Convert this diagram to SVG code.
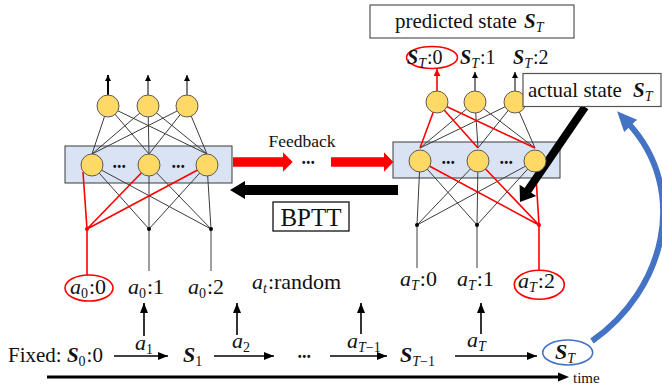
<svg xmlns="http://www.w3.org/2000/svg" width="662" height="387" viewBox="0 0 662 387">
<style>
text{font-family:"Liberation Serif","Times New Roman",serif;fill:#111}
.it{font-style:italic}
.bi{font-style:italic;font-weight:bold}
.sub{font-size:14px}
.box{fill:#DAE3F3;stroke:#3a3a3a;stroke-width:1}
.node{fill:#FFD966;stroke:#5a5a5a;stroke-width:1}
.ln{stroke:#3c3c3c;stroke-width:1;fill:none}
.rd{stroke:#FF0000;stroke-width:1.6;fill:none}
.ar{stroke:#000;stroke-width:1.6;fill:none;marker-end:url(#ah)}
.dots{font-family:"Liberation Sans",Arial,sans-serif;font-size:10px;font-weight:bold;letter-spacing:1px}
.wbox{fill:#fff;stroke:#555;stroke-width:1.2}
</style>
<defs>
<marker id="ah" viewBox="0 0 10 8" refX="10" refY="4" markerWidth="10" markerHeight="8" markerUnits="userSpaceOnUse" orient="auto"><path d="M0,0L10,4L0,8z" fill="#000"/></marker>
<marker id="ahs" viewBox="0 0 6 6" refX="6" refY="3" markerWidth="6" markerHeight="6" markerUnits="userSpaceOnUse" orient="auto"><path d="M0,0L6,3L0,6z" fill="#000"/></marker>
<marker id="ahr" viewBox="0 0 6 6" refX="6" refY="3" markerWidth="7" markerHeight="7" markerUnits="userSpaceOnUse" orient="auto"><path d="M0,0L6,3L0,6z" fill="#FF0000"/></marker>
<marker id="ahb" viewBox="0 0 20 18" refX="4" refY="9" markerWidth="20" markerHeight="18" markerUnits="userSpaceOnUse" orient="auto"><path d="M0,0L20,9L0,18z" fill="#4472C4"/></marker>
</defs>

<!-- layer boxes -->
<g id="left-hidden-layer"><rect class="box" x="65" y="146" width="167" height="37"/></g>
<g id="right-hidden-layer"><rect class="box" x="393" y="142" width="167" height="36"/></g>

<g id="connectors">
  <!-- left network: top to hidden -->
  <path class="ln" d="M108,106L92,154M108,106L149,154M108,106L207,154M148,106L92,154M148,106L149,154M148,106L207,154M187,106L92,154M187,106L149,154M187,106L207,154"/>
  <!-- left network: hidden to junctions -->
  <path class="ln" d="M92,165L149,229M92,165L211,229M149,165L149,229M149,165L211,229M207,165L149,229M207,165L211,229"/>
  <path class="rd" d="M83,172L87,229M149,165L87,229M207,165L87,229"/>
  <path class="ln" d="M149,229V271M211,229V271" stroke="#555"/>
  <path class="rd" d="M87,229V275"/>
  <circle cx="87" cy="229" r="2" fill="#FF0000"/>
  <circle cx="149" cy="229" r="2" fill="#000"/>
  <circle cx="211" cy="229" r="2" fill="#000"/>
  <!-- left outputs -->
  <line x1="108" y1="95" x2="108" y2="75" stroke="#000" stroke-width="2" marker-end="url(#ahs)"/>
  <line x1="148" y1="95" x2="148" y2="75" stroke="#000" stroke-width="1" marker-end="url(#ahs)"/>
  <line x1="187" y1="95" x2="187" y2="75" stroke="#000" stroke-width="1" marker-end="url(#ahs)"/>

  <!-- right network: top to hidden -->
  <path class="ln" d="M475,102L420,148M475,102L478,148M475,102L535,148M515,102L420,148M515,102L478,148M515,102L535,148"/>
  <path class="rd" d="M437,102L420,148M437,102L478,148M437,102L535,148"/>
  <!-- right network: hidden to junctions -->
  <path class="ln" d="M420,161L417,225M420,161L477,225M478,161L417,225M478,161L477,225M535,161L417,225M535,161L477,225"/>
  <path class="rd" d="M420,161L539,225M478,161L539,225M535,161L539,225"/>
  <path class="ln" d="M417,225V268M477,225V268" stroke="#555"/>
  <path class="rd" d="M539,225V270"/>
  <circle cx="417" cy="225" r="2" fill="#000"/>
  <circle cx="477" cy="225" r="2" fill="#000"/>
  <circle cx="539" cy="225" r="2" fill="#FF0000"/>
  <!-- right outputs -->
  <line x1="437" y1="91" x2="437" y2="69" stroke="#FF0000" stroke-width="1.6" marker-end="url(#ahr)"/>
  <line x1="475" y1="91" x2="475" y2="72" stroke="#000" stroke-width="1" marker-end="url(#ahs)"/>
  <line x1="515" y1="91" x2="515" y2="72" stroke="#000" stroke-width="1" marker-end="url(#ahs)"/>

  <!-- feedback arrows -->
  <polygon points="233,157.3 283,157.3 283,152.3 292.7,162 283,171.7 283,166.7 233,166.7" fill="#FF0000"/>
  <polygon points="331,157.3 384,157.3 384,152.3 393.3,162 384,171.7 384,166.7 331,166.7" fill="#FF0000"/>
  <!-- BPTT arrow -->
  <polygon points="398,185 245,185 245,181 230,190 245,199 245,195 398,195" fill="#000"/>
  <!-- actual state arrow -->
  <polygon points="581.7,104.7 588.3,109.3 531.2,192.7 536.2,196 520,202 519.6,184.8 524.6,188.1" fill="#000"/>
  <!-- blue feedback curve -->
  <path d="M592,341C665,290 690,190 628,123" fill="none" stroke="#4472C4" stroke-width="6" marker-end="url(#ahb)"/>

  <!-- action arrows (up) -->
  <line class="ar" x1="144" y1="336" x2="144" y2="303"/>
  <line class="ar" x1="237" y1="335" x2="237" y2="303"/>
  <line class="ar" x1="361" y1="334" x2="361" y2="303"/>
  <line class="ar" x1="481" y1="334" x2="481" y2="303"/>
  <!-- state transition arrows -->
  <line class="ar" x1="114" y1="356" x2="168" y2="356"/>
  <line class="ar" x1="214" y1="356" x2="274" y2="356"/>
  <line class="ar" x1="330" y1="356" x2="387" y2="356"/>
  <line class="ar" x1="455" y1="356" x2="537" y2="356"/>
  <!-- time axis -->
  <line x1="47" y1="377" x2="560" y2="377" stroke="#000" stroke-width="3"/>
  <polygon points="558,372.5 569,377 558,381.5" fill="#000"/>
</g>

<!-- left network nodes -->
<g id="left-output-nodes">
  <circle class="node" cx="108" cy="106" r="11"/>
  <circle class="node" cx="148" cy="106" r="11"/>
  <circle class="node" cx="187" cy="106" r="11"/>
</g>
<g id="left-hidden-nodes">
  <circle class="node" cx="92" cy="165" r="11"/>
  <circle class="node" cx="149" cy="165" r="11"/>
  <circle class="node" cx="207" cy="165" r="11"/>
  <text class="dots" x="113" y="169.5">•••</text>
  <text class="dots" x="172" y="169.5">•••</text>
</g>

<!-- right network nodes -->
<g id="right-output-nodes">
  <circle class="node" cx="437" cy="102" r="11"/>
  <circle class="node" cx="475" cy="102" r="11"/>
  <circle class="node" cx="515" cy="102" r="11"/>
</g>
<g id="right-hidden-nodes">
  <circle class="node" cx="420" cy="161" r="11"/>
  <circle class="node" cx="478" cy="161" r="11"/>
  <circle class="node" cx="535" cy="161" r="11"/>
  <text class="dots" x="442" y="165.5">•••</text>
  <text class="dots" x="500" y="165.5">•••</text>
</g>

<!-- feedback / BPTT labels -->
<g id="feedback-label">
  <text x="302" y="147" font-size="17.5" text-anchor="middle">Feedback</text>
  <text class="dots" x="302" y="166">•••</text>
</g>
<g id="bptt">
  <rect x="273" y="202" width="76" height="29" fill="#fff" stroke="#111" stroke-width="1.3"/>
  <text x="311" y="226" font-size="25" text-anchor="middle">BPTT</text>
</g>

<!-- predicted state -->
<g id="predicted-state">
  <rect class="wbox" x="370" y="5" width="204" height="33"/>
  <text x="395" y="28" font-size="21">predicted state</text>
  <text x="524" y="28" font-size="21"><tspan class="bi">S</tspan><tspan class="it" font-size="14" dy="4">T</tspan></text>
</g>
<g id="output-labels">
  <ellipse cx="432" cy="57.5" rx="25.5" ry="11" fill="none" stroke="#FF0000" stroke-width="1.6"/>
  <text x="407" y="64" font-size="20"><tspan class="bi">S</tspan><tspan class="it" font-size="14" dy="4">T</tspan><tspan dy="-4" dx="1">:0</tspan></text>
  <text x="460" y="64" font-size="20"><tspan class="bi">S</tspan><tspan class="it" font-size="14" dy="4">T</tspan><tspan dy="-4" dx="1">:1</tspan></text>
  <text x="513" y="64" font-size="20"><tspan class="bi">S</tspan><tspan class="it" font-size="14" dy="4">T</tspan><tspan dy="-4" dx="1">:2</tspan></text>
</g>

<!-- actual state -->
<g id="actual-state">
  <rect class="wbox" x="523" y="73.5" width="138" height="33"/>
  <text x="528" y="97" font-size="21">actual state</text>
  <text x="633" y="97" font-size="21"><tspan class="bi">S</tspan><tspan class="it" font-size="14" dy="4">T</tspan></text>
</g>

<!-- action labels -->
<g id="action-labels">
  <ellipse cx="89" cy="288" rx="24" ry="13" fill="none" stroke="#FF0000" stroke-width="1.6"/>
  <text x="70" y="294" font-size="22"><tspan class="it">a</tspan><tspan class="sub" dy="4">0</tspan><tspan dy="-4" dx="1">:0</tspan></text>
  <text x="128" y="294" font-size="22"><tspan class="it">a</tspan><tspan class="sub" dy="4">0</tspan><tspan dy="-4" dx="1">:1</tspan></text>
  <text x="188" y="294" font-size="22"><tspan class="it">a</tspan><tspan class="sub" dy="4">0</tspan><tspan dy="-4" dx="1">:2</tspan></text>
  <text x="252" y="289" font-size="22"><tspan class="it">a</tspan><tspan class="it sub" dy="4">t</tspan><tspan dy="-4" dx="1">:random</tspan></text>
  <text x="400" y="286" font-size="22"><tspan class="it">a</tspan><tspan class="it sub" dy="4">T</tspan><tspan dy="-4" dx="1">:0</tspan></text>
  <text x="457" y="286" font-size="22"><tspan class="it">a</tspan><tspan class="it sub" dy="4">T</tspan><tspan dy="-4" dx="1">:1</tspan></text>
  <ellipse cx="539.3" cy="284.7" rx="25" ry="14.5" fill="none" stroke="#FF0000" stroke-width="1.6"/>
  <text x="518" y="288" font-size="22"><tspan class="it">a</tspan><tspan class="it sub" dy="4">T</tspan><tspan dy="-4" dx="1">:2</tspan></text>
</g>

<!-- transition action labels -->
<g id="transition-labels">
  <text x="135" y="350" font-size="22"><tspan class="it">a</tspan><tspan class="sub" dy="4">1</tspan></text>
  <text x="232" y="348" font-size="22"><tspan class="it">a</tspan><tspan class="sub" dy="4">2</tspan></text>
  <text x="347" y="348" font-size="22"><tspan class="it">a</tspan><tspan class="it sub" dy="4">T</tspan><tspan class="sub">−1</tspan></text>
  <text x="467" y="347" font-size="22"><tspan class="it">a</tspan><tspan class="it sub" dy="4">T</tspan></text>
</g>

<!-- states -->
<g id="states">
  <text x="8" y="362" font-size="21">Fixed: <tspan class="bi">S</tspan><tspan class="sub" dy="4">0</tspan><tspan dy="-4" dx="1">:0</tspan></text>
  <text x="183" y="362" font-size="22"><tspan class="bi">S</tspan><tspan class="sub" dy="4">1</tspan></text>
  <text class="dots" x="298" y="360">•••</text>
  <text x="400" y="362" font-size="22"><tspan class="bi">S</tspan><tspan class="it sub" dy="4">T</tspan><tspan class="sub">−1</tspan></text>
  <ellipse cx="567.7" cy="352.5" rx="25" ry="12.5" fill="none" stroke="#4472C4" stroke-width="1.6"/>
  <text x="555" y="359" font-size="22"><tspan class="bi">S</tspan><tspan class="it sub" dy="4">T</tspan></text>
  <text x="573" y="383" font-size="15">time</text>
</g>
</svg>
